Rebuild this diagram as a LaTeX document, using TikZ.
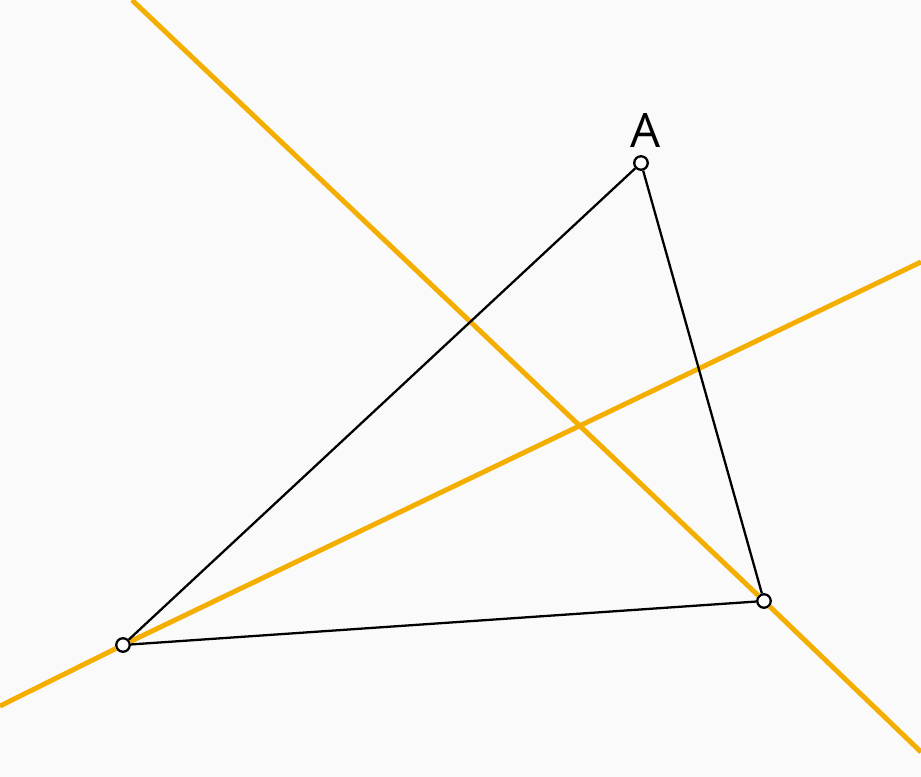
\documentclass[tikz,border=0pt]{standalone}
\usepackage{fontspec}
\setmainfont{Open Sans}
\usepackage{xcolor}
\usetikzlibrary{positioning}
\definecolor{bgcol}{HTML}{FAFAFA}
\definecolor{linecol}{HTML}{F4AE00}

\begin{document}
\begin{tikzpicture}[
  x=0.02cm, y=-0.02cm,
  pt/.style={draw, circle, fill=white, line width=1.3pt, minimum size=0.27cm, inner sep=0pt},
  side/.style={line width=1.3pt},
  ray/.style={draw=linecol, line width=2.8pt},
  lbl/.style={font=\fontsize{27}{32}\selectfont}
]
\fill[bgcol] (0,0) rectangle (921,777);
\useasboundingbox (0,0) rectangle (921,777);

% vertices
\node[pt] (A) at (641,163) {};
\node[pt] (B) at (123,645) {};
\node[pt] (C) at (764,601) {};
\node[lbl, above=0.02cm of A, xshift=0.1cm] (labA) {A};

% ends of the two lines
\coordinate (l1s) at (132,0);
\coordinate (l1e) at (921,752);
\coordinate (l2s) at (0,706);
\coordinate (l2e) at (921,262);

\draw[ray] (l1s) -- (C) -- (l1e);
\draw[ray] (l2s) -- (B) -- (l2e);

\draw[side] (A) -- (B) -- (C) -- (A);
\end{tikzpicture}
\end{document}
